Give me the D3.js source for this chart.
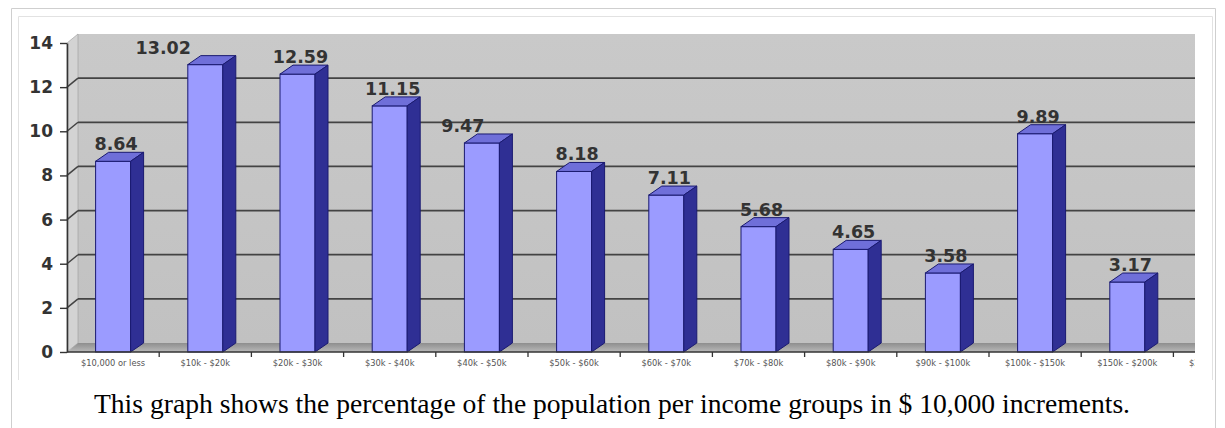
<!DOCTYPE html>
<html>
<head>
<meta charset="utf-8">
<script src="https://cdn.jsdelivr.net/npm/d3@7"></script>
<style>
  html, body { margin: 0; padding: 0; background: #fff; }
  svg { display: block; }
</style>
</head>
<body>
<svg id="chart" width="1225" height="428"></svg>
<script>
// Income groups (the last group runs off the right edge of the chart image)
const categories = [
  "$10,000 or less", "$10k - $20k", "$20k - $30k", "$30k - $40k",
  "$40k - $50k", "$50k - $60k", "$60k - $70k", "$70k - $80k",
  "$80k - $90k", "$90k - $100k", "$100k - $150k", "$150k - $200k", "$200k or more"
];
// Percentage of the population in each group
const percentages = [8.64, 13.02, 12.59, 11.15, 9.47, 8.18, 7.11, 5.68, 4.65, 3.58, 9.89, 3.17, null];
const yTicks = [0, 2, 4, 6, 8, 10, 12, 14];
const captionText = "This graph shows the percentage of the population per income groups in $ 10,000 increments.";

const svg = d3.select("#chart");

// ---- frames around the figure ----
svg.append("path")
  .attr("d", "M11.5,440 V8.5 H1215.5 V440")
  .attr("fill", "none").attr("stroke", "#cfcfcf");
svg.append("path")
  .attr("d", "M18.5,380 V16.5 H1212.5 V380")
  .attr("fill", "none").attr("stroke", "#e2e2e2");

// ---- plot geometry ----
const plotLeft = 67, plotBase = 352, plotTop = 43, band = 92.2;
const wallDx = 11, wallDy = 9;      // depth of walls / floor
const barDx = 13, barDy = 9;        // depth of the bars
const barW = 35;
const clipRight = 1195;

const x = d3.scaleBand()
  .domain(categories)
  .range([plotLeft, plotLeft + band * categories.length])
  .paddingInner(0).paddingOuter(0);
const y = d3.scaleLinear().domain([0, 14]).range([plotBase, plotTop]);
const xEnd = x.range()[1];

const defs = svg.append("defs");
defs.append("clipPath").attr("id", "plotClip")
  .append("rect").attr("x", 0).attr("y", 0).attr("width", clipRight).attr("height", 428);

const floorGrad = defs.append("linearGradient").attr("id", "floorGrad")
  .attr("x1", 0).attr("y1", 0).attr("x2", 0).attr("y2", 1);
floorGrad.append("stop").attr("offset", "0%").attr("stop-color", "#8e8e8e");
floorGrad.append("stop").attr("offset", "100%").attr("stop-color", "#b9b9b9");

const wallGrad = defs.append("linearGradient").attr("id", "wallGrad")
  .attr("x1", 0).attr("y1", 0).attr("x2", 0).attr("y2", 1);
wallGrad.append("stop").attr("offset", "0%").attr("stop-color", "#c9c9c9");
wallGrad.append("stop").attr("offset", "100%").attr("stop-color", "#c1c1c1");

const plot = svg.append("g").attr("clip-path", "url(#plotClip)");

// back wall
plot.append("rect")
  .attr("x", plotLeft + wallDx).attr("y", y(14) - wallDy)
  .attr("width", xEnd - plotLeft).attr("height", y(0) - y(14))
  .attr("fill", "url(#wallGrad)");

// side wall
plot.append("polygon")
  .attr("points", [[plotLeft, y(0)], [plotLeft + wallDx, y(0) - wallDy], [plotLeft + wallDx, y(14) - wallDy], [plotLeft, y(14)]].join(" "))
  .attr("fill", "#d3d3d3").attr("stroke", "#9a9a9a").attr("stroke-width", 0.6);

// floor
plot.append("polygon")
  .attr("points", [[plotLeft, y(0)], [xEnd, y(0)], [xEnd + wallDx, y(0) - wallDy], [plotLeft + wallDx, y(0) - wallDy]].join(" "))
  .attr("fill", "url(#floorGrad)");

// gridlines on the back and side walls
const gridVals = yTicks.filter(t => t > 0 && t < 14);
plot.selectAll("line.grid").data(gridVals).join("line")
  .attr("class", "grid")
  .attr("x1", plotLeft + wallDx).attr("x2", xEnd + wallDx)
  .attr("y1", d => y(d) - wallDy).attr("y2", d => y(d) - wallDy)
  .attr("stroke", "#434343").attr("stroke-width", 1.8);
plot.selectAll("line.sidegrid").data(gridVals).join("line")
  .attr("class", "sidegrid")
  .attr("x1", plotLeft).attr("x2", plotLeft + wallDx)
  .attr("y1", d => y(d)).attr("y2", d => y(d) - wallDy)
  .attr("stroke", "#434343").attr("stroke-width", 1.5);

// bars
const data = categories.map((c, i) => ({ c, v: percentages[i], i })).filter(d => d.v != null);
const bars = plot.selectAll("g.bar").data(data).join("g").attr("class", "bar");
const bx = d => x(d.c) + (x.bandwidth() - barW) / 2;

bars.append("rect")
  .attr("x", bx).attr("y", d => y(d.v))
  .attr("width", barW).attr("height", d => y(0) - y(d.v))
  .attr("fill", "#9b9bff").attr("stroke", "#1a1a70").attr("stroke-width", 1);
bars.append("polygon")
  .attr("points", d => {
    const x0 = bx(d), yt = y(d.v);
    return [[x0, yt], [x0 + barW, yt], [x0 + barW + barDx, yt - barDy], [x0 + barDx, yt - barDy]].join(" ");
  })
  .attr("fill", "#6f6fd9").attr("stroke", "#1a1a70").attr("stroke-width", 1);
bars.append("polygon")
  .attr("points", d => {
    const x1 = bx(d) + barW, yt = y(d.v);
    return [[x1, yt], [x1 + barDx, yt - barDy], [x1 + barDx, y(0) - barDy], [x1, y(0)]].join(" ");
  })
  .attr("fill", "#2f2f94").attr("stroke", "#1a1a70").attr("stroke-width", 1);

// value labels (two are pulled left by the chart's own label layout)
const labelNudge = { 1: -45, 4: -22 };
plot.selectAll("text.value").data(data).join("text")
  .attr("class", "value")
  .attr("x", d => bx(d) + barW / 2 + 3 + (labelNudge[d.i] || 0))
  .attr("y", d => y(d.v) - 11)
  .attr("text-anchor", "middle")
  .attr("font-family", "'DejaVu Sans', Verdana, sans-serif")
  .attr("font-weight", "bold")
  .attr("font-size", 17.5)
  .attr("fill", "#333")
  .text(d => d.v.toFixed(2));

// category axis: front edge, boundary ticks and labels
plot.append("line")
  .attr("x1", plotLeft).attr("x2", xEnd).attr("y1", plotBase).attr("y2", plotBase)
  .attr("stroke", "#333").attr("stroke-width", 1.4);
plot.selectAll("line.xtick").data(categories.slice(1)).join("line")
  .attr("class", "xtick")
  .attr("x1", d => x(d)).attr("x2", d => x(d))
  .attr("y1", plotBase).attr("y2", plotBase + 5)
  .attr("stroke", "#333").attr("stroke-width", 1.3);
plot.selectAll("text.xlab").data(categories).join("text")
  .attr("class", "xlab")
  .attr("x", d => x(d) + x.bandwidth() / 2)
  .attr("y", 365.5)
  .attr("text-anchor", "middle")
  .attr("font-family", "'DejaVu Sans', Verdana, sans-serif")
  .attr("font-size", 8.3)
  .attr("fill", "#555")
  .text(d => d);

// value axis
const yAxis = svg.append("g")
  .attr("transform", `translate(${plotLeft},0)`)
  .call(d3.axisLeft(y).tickValues(yTicks).tickSize(7).tickSizeOuter(0).tickPadding(7).tickFormat(d3.format("d")));
yAxis.select(".domain").attr("stroke", "#333").attr("stroke-width", 1.6);
yAxis.selectAll(".tick line").attr("stroke", "#333").attr("stroke-width", 1.4);
yAxis.selectAll(".tick text")
  .attr("font-family", "'DejaVu Sans', Verdana, sans-serif")
  .attr("font-weight", "bold")
  .attr("font-size", 17)
  .attr("fill", "#333");

// caption
svg.append("text")
  .attr("x", 612).attr("y", 413)
  .attr("text-anchor", "middle")
  .attr("font-family", "'Liberation Serif', 'Times New Roman', serif")
  .attr("font-size", 27.6)
  .attr("fill", "#000")
  .text(captionText);
</script>
</body>
</html>
